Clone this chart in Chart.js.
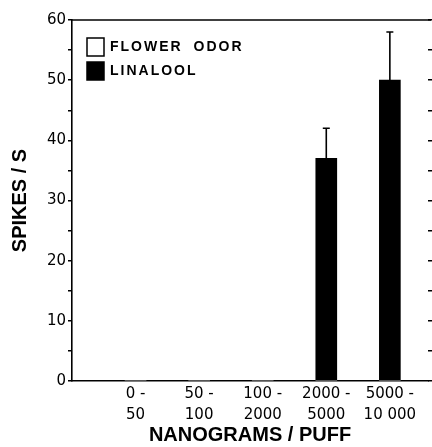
<!DOCTYPE html>
<html>
<head>
<meta charset="utf-8">
<script src="https://cdn.jsdelivr.net/npm/chart.js@4"></script>
<style>
  html, body { margin: 0; padding: 0; background: #fff; }
  #wrap { width: 432px; height: 447px; }
</style>
</head>
<body>
<div id="wrap"><canvas id="c" width="432" height="447"></canvas></div>
<script>
// ---- data ----
const categories = [['0 -', '50'], ['50 -', '100'], ['100 -', '2000'], ['2000 -', '5000'], ['5000 -', '10 000']];
const flowerOdor = [0, 0, 0, 0, 0];
const linalool = [0, 0, 0, 37, 50];
const linaloolErr = [0, 0, 0, 5, 8];
const seriesNames = ['FLOWER ODOR', 'LINALOOL'];
const yTicksMax = 60;

const tickFont = { family: 'DejaVu Sans', size: 15, lineHeight: 1.4 };
const titleFont = { family: 'Liberation Sans', size: 20, weight: 'bold' };

const toPoints = arr => arr.map((v, i) => ({ x: i + 1, y: v }));

const errorBars = {
  id: 'errorBars',
  afterDatasetsDraw(chart) {
    const meta = chart.getDatasetMeta(1);
    const ys = chart.scales.y;
    const ctx = chart.ctx;
    ctx.save();
    ctx.strokeStyle = '#000';
    ctx.lineWidth = 1.6;
    meta.data.forEach((bar, i) => {
      const e = linaloolErr[i];
      if (!e) return;
      const top = ys.getPixelForValue(linalool[i] + e);
      ctx.beginPath();
      ctx.moveTo(bar.x, bar.y);
      ctx.lineTo(bar.x, top);
      ctx.moveTo(bar.x - 3.5, top);
      ctx.lineTo(bar.x + 3.5, top);
      ctx.stroke();
    });
    ctx.restore();
  }
};

const frame = {
  id: 'frame',
  afterDraw(chart) {
    const { ctx, chartArea: a } = chart;
    ctx.save();
    ctx.strokeStyle = '#000';
    ctx.lineWidth = 1.5;
    ctx.beginPath();
    ctx.moveTo(a.left, a.top);
    ctx.lineTo(a.right + 3, a.top);
    ctx.stroke();
    ctx.restore();
  }
};

const insideLegend = {
  id: 'insideLegend',
  afterDraw(chart) {
    const { ctx, chartArea: a } = chart;
    ctx.save();
    const x0 = a.left + 15;
    const rows = [a.top + 18, a.top + 42];
    chart.data.datasets.forEach((ds, i) => {
      const yTop = rows[i];
      ctx.fillStyle = ds.backgroundColor;
      ctx.fillRect(x0, yTop, 17, 18);
      ctx.strokeStyle = '#000';
      ctx.lineWidth = 1.5;
      ctx.strokeRect(x0, yTop, 17, 18);
      ctx.fillStyle = '#000';
      ctx.font = 'bold 14px "Liberation Sans"';
      ctx.letterSpacing = '2px';
      ctx.wordSpacing = '5px';
      ctx.textBaseline = 'middle';
      ctx.textAlign = 'left';
      ctx.fillText(ds.label, x0 + 23, yTop + 9.5);
    });
    ctx.restore();
  }
};

new Chart(document.getElementById('c'), {
  type: 'bar',
  data: {
    datasets: [
      {
        label: seriesNames[0],
        data: toPoints(flowerOdor),
        backgroundColor: '#ffffff',
        borderColor: '#000000',
        borderWidth: 0,
        barThickness: 21,
        grouped: false
      },
      {
        label: seriesNames[1],
        data: toPoints(linalool),
        backgroundColor: '#000000',
        borderColor: '#000000',
        borderWidth: 0,
        barThickness: 21,
        grouped: false
      }
    ]
  },
  options: {
    responsive: false,
    animation: false,
    devicePixelRatio: 1,
    layout: { padding: { top: 20, left: 0, right: 0, bottom: 0 } },
    plugins: { legend: { display: false }, tooltip: { enabled: false } },
    scales: {
      x: {
        type: 'linear',
        offset: false,
        min: 0,
        max: 5.6,
        afterBuildTicks: s => { s.ticks = categories.map((c, i) => ({ value: i + 1 })); },
        afterFit: s => { s.height = 66; },
        ticks: {
          autoSkip: false,
          maxRotation: 0,
          padding: 3,
          color: '#000',
          font: tickFont,
          callback: v => categories[v - 1]
        },
        grid: { display: false, drawTicks: false },
        border: { display: true, color: '#000', width: 1.6 },
        title: {
          display: true,
          text: 'NANOGRAMS / PUFF',
          color: '#000',
          font: titleFont,
          padding: { top: 0, bottom: 0 }
        }
      },
      y: {
        position: 'left',
        min: 0,
        max: yTicksMax,
        afterFit: s => { s.width = 72; },
        ticks: {
          stepSize: 5,
          autoSkip: false,
          padding: 2,
          color: '#000',
          font: { family: 'DejaVu Sans', size: 15 },
          callback: v => (v % 10 === 0 ? v : '')
        },
        grid: { drawOnChartArea: false, drawTicks: true, tickLength: 4, color: '#000', lineWidth: 1.5 },
        border: { display: true, color: '#000', width: 1.6 },
        title: {
          display: true,
          text: 'SPIKES / S',
          color: '#000',
          font: titleFont,
          padding: { top: 8 }
        }
      },
      y2: {
        position: 'right',
        min: 0,
        max: yTicksMax,
        afterFit: s => { s.width = 4; },
        ticks: { display: false, stepSize: 5, autoSkip: false },
        grid: { drawOnChartArea: false, drawTicks: true, tickLength: 4, color: '#000', lineWidth: 1.5 },
        border: { display: false }
      }
    }
  },
  plugins: [errorBars, frame, insideLegend]
});
</script>
</body>
</html>
